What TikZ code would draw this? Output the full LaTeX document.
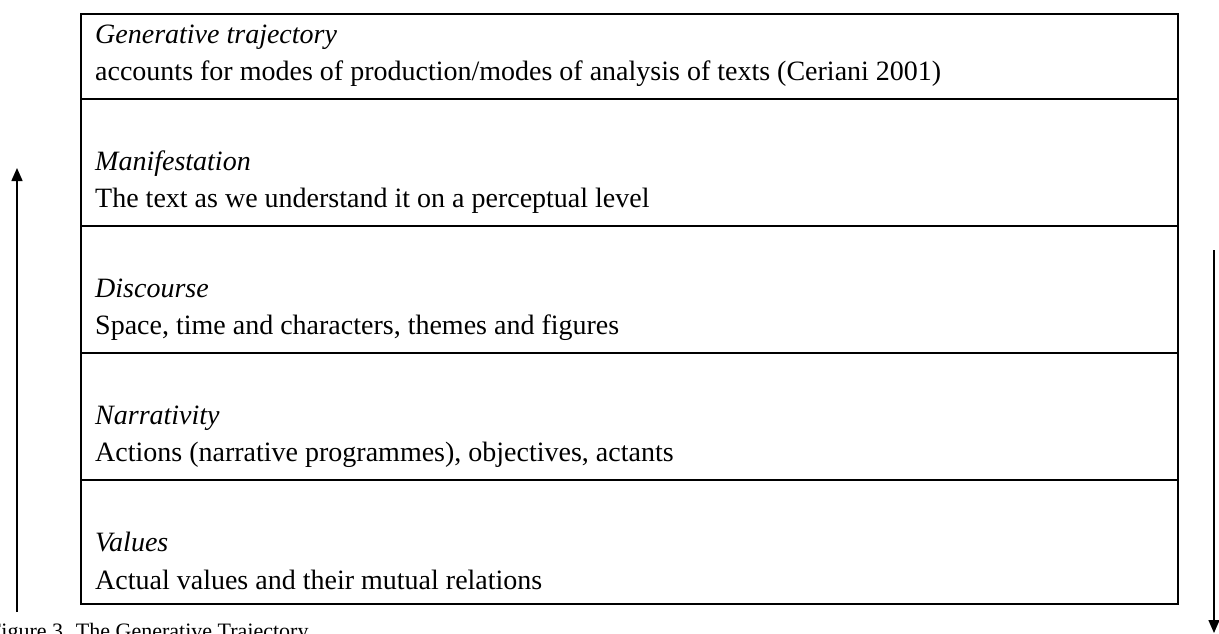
\documentclass[tikz,border=0pt]{standalone}
\usepackage{fontspec}
\setmainfont{Liberation Serif}
\usetikzlibrary{arrows.meta}
\begin{document}
\begin{tikzpicture}[x=1pt,y=-1pt,
  frame/.style={line width=1.6pt},
  title/.style={anchor=base west,inner sep=0pt,font=\fontsize{28}{30}\selectfont\itshape},
  body/.style={anchor=base west,inner sep=0pt,font=\fontsize{28}{30}\selectfont},
  caption/.style={anchor=base west,inner sep=0pt,font=\fontsize{22}{24}\selectfont},
  flow/.style={line width=1.6pt,-{Triangle[length=13pt,width=11pt]}}]
\useasboundingbox (0,0) rectangle (1219,633);
\clip (0,0) rectangle (1219,633);

% the table of levels
\draw[frame] (81,14) rectangle (1178,604);
\foreach \y in {99,226,353,480} \draw[frame] (81,\y) -- (1178,\y);

\node[title] (gt)  at (95,43)  {Generative trajectory};
\node[body]  (gtb) at (95,80)  {accounts for modes of production/modes of analysis of texts (Ceriani 2001)};
\node[title] (man) at (95,170) {Manifestation};
\node[body]  (manb) at (95,207) {The text as we understand it on a perceptual level};
\node[title] (dis) at (95,297) {Discourse};
\node[body]  (disb) at (95,334) {Space, time and characters, themes and figures};
\node[title] (nar) at (95,424) {Narrativity};
\node[body]  (narb) at (95,461) {Actions (narrative programmes), objectives, actants};
\node[title] (val) at (95,551) {Values};
\node[body]  (valb) at (95,589) {Actual values and their mutual relations};

% direction arrows
\coordinate (upfrom) at (17,612);
\coordinate (upto) at (17,168);
\coordinate (downfrom) at (1214,250);
\coordinate (downto) at (1214,633);
\draw[flow] (upfrom) -- (upto);
\draw[flow] (downfrom) -- (downto);

% caption
\node[caption] (cap) at (-11,638) {Figure 3. The Generative Trajectory};
\end{tikzpicture}
\end{document}
